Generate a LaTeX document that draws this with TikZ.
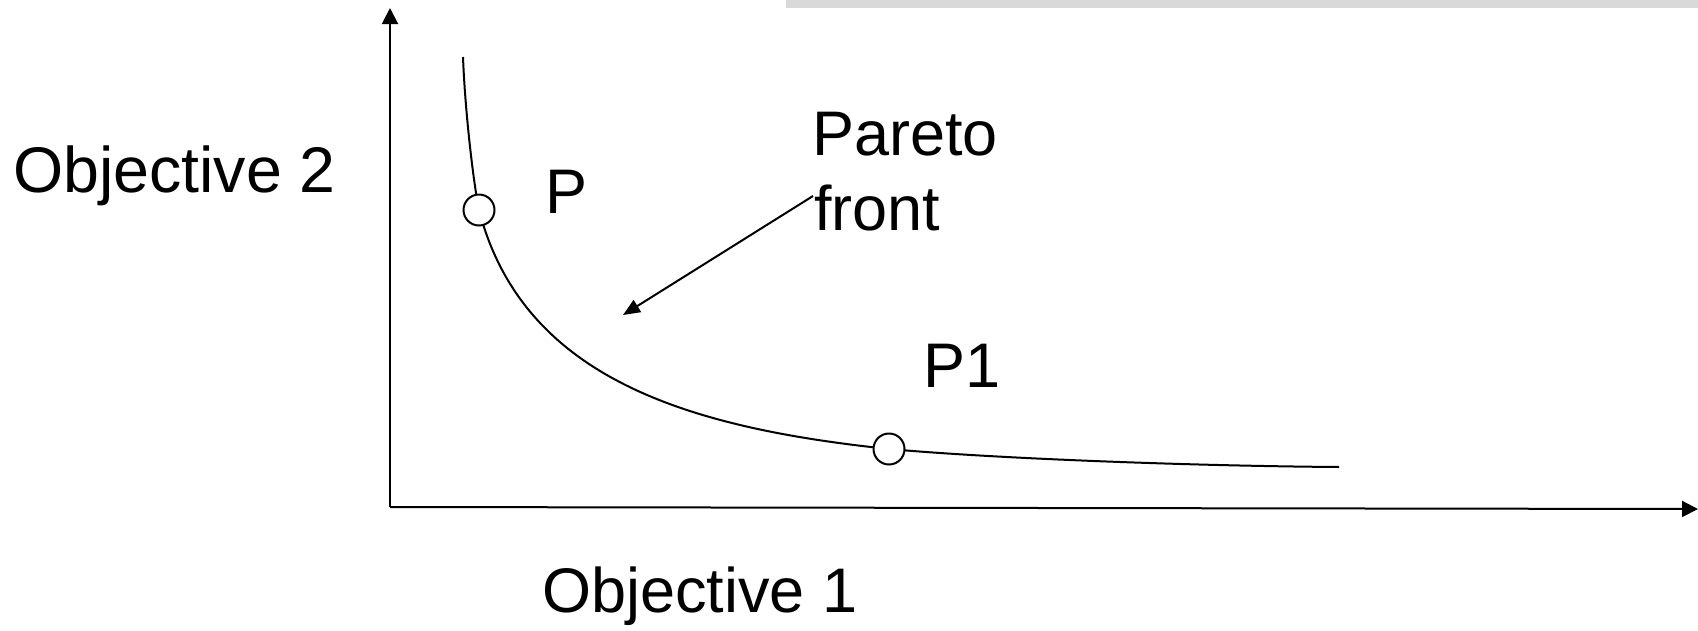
\documentclass[tikz,border=0pt]{standalone}
\usepackage{fontspec}
\setmainfont{Liberation Sans}
\usetikzlibrary{arrows.meta}
\begin{document}
\begin{tikzpicture}[x=1pt,y=-1pt,
  lbl/.style={inner sep=0pt, anchor=base west, font=\fontsize{63}{75}\selectfont},
  ln/.style={line width=2pt},
  pt/.style={circle, draw, line width=2pt, fill=white, minimum size=31pt, inner sep=0pt},
  tip/.style={-{Triangle[length=16pt,width=16pt]}}]
\useasboundingbox (0,0) rectangle (1698,630);
\fill[fill={rgb,255:red,217;green,217;blue,217}] (786,0) rectangle (1698,8);
% axes
\coordinate (O) at (390,507);
\coordinate (ytip) at (390,8);
\coordinate (xtip) at (1698,509);
\draw[ln,tip] (O) -- (ytip);
\draw[ln,tip] (O) -- (xtip);
% pareto curve
\coordinate (c0) at (463,57);
\coordinate (c3) at (1339,467);
\coordinate (pP) at (479,210);
\coordinate (pP1) at (889,449);
\draw[ln] (c0) .. controls (465,110) and (473,180) .. (pP)
  .. controls (523,379) and (689,428) .. (pP1)
  .. controls (1000,459) and (1200,466) .. (c3);
\node[pt] (P) at (pP) {};
\node[pt] (P1) at (pP1) {};
% labels
\node[lbl, font=\fontsize{64.5}{75}\selectfont] (obj2) at (13,192) {Objective 2};
\node[lbl] (obj1) at (542,612) {Objective 1};
\node[lbl] (lP) at (545,213) {P};
\node[lbl] (lP1) at (923,387) {P1};
\node[lbl] (par) at (812,155) {Pareto};
\node[lbl] (front) at (814,230) {front};
\coordinate (arrS) at (813,196);
\coordinate (arrE) at (623,315);
\draw[ln,-{Triangle[length=17pt,width=14pt]}] (arrS) -- (arrE);
\end{tikzpicture}
\end{document}
